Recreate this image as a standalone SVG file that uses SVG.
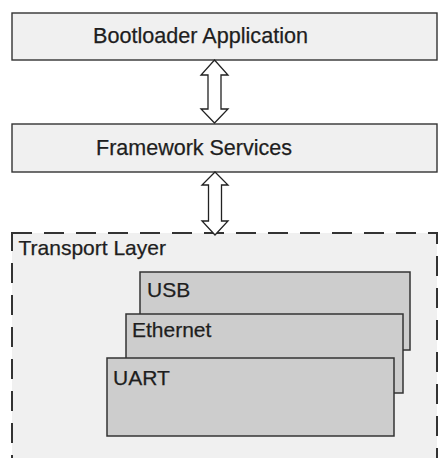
<svg xmlns="http://www.w3.org/2000/svg" width="440" height="458" viewBox="0 0 440 458">
<style>
.box{fill:#f0f0f0;stroke:#333;stroke-width:1.4}
.sub{fill:#cdcdcd;stroke:#333;stroke-width:1.5}
.lbl{font-family:"Liberation Sans",Arial,sans-serif;font-size:21px;fill:#1e1e1e;stroke:#1e1e1e;stroke-width:0.25}
.big{font-size:21.6px}
.arrow{fill:#fff;stroke:#222;stroke-width:1.3;stroke-linejoin:miter}
</style>
<rect width="440" height="458" fill="#fff"/>
<g id="transport-layer">
<rect x="12" y="233" width="425" height="240" fill="#f0f0f0" stroke="#333" stroke-width="2" stroke-dasharray="20 12"/>
<text class="lbl" x="18.5" y="255">Transport Layer</text>
</g>
<g id="bootloader-application">
<rect class="box" x="12" y="13" width="425" height="47"/>
<text class="lbl big" x="93" y="43" textLength="215" lengthAdjust="spacingAndGlyphs">Bootloader Application</text>
</g>
<g id="framework-services">
<rect class="box" x="12" y="124" width="425" height="48"/>
<text class="lbl big" x="96" y="155" textLength="196" lengthAdjust="spacingAndGlyphs">Framework Services</text>
</g>
<g id="usb">
<rect class="sub" x="140" y="272" width="270" height="78"/>
<text class="lbl" x="147" y="297">USB</text>
</g>
<g id="ethernet">
<rect class="sub" x="126" y="314" width="277" height="79"/>
<text class="lbl" x="132" y="337">Ethernet</text>
</g>
<g id="uart">
<rect class="sub" x="107" y="358" width="287" height="78"/>
<text class="lbl" x="113" y="385">UART</text>
</g>
<g id="connectors">
<path class="arrow" d="M214.5,60 L228,75 L221,75 L221,109 L228,109 L214.5,123 L201,109 L208,109 L208,75 L201,75 Z"/>
<path class="arrow" d="M215,172 L228,185 L221.5,185 L221.5,221 L228,221 L215,235 L202,221 L208.5,221 L208.5,185 L202,185 Z"/>
</g>
</svg>
